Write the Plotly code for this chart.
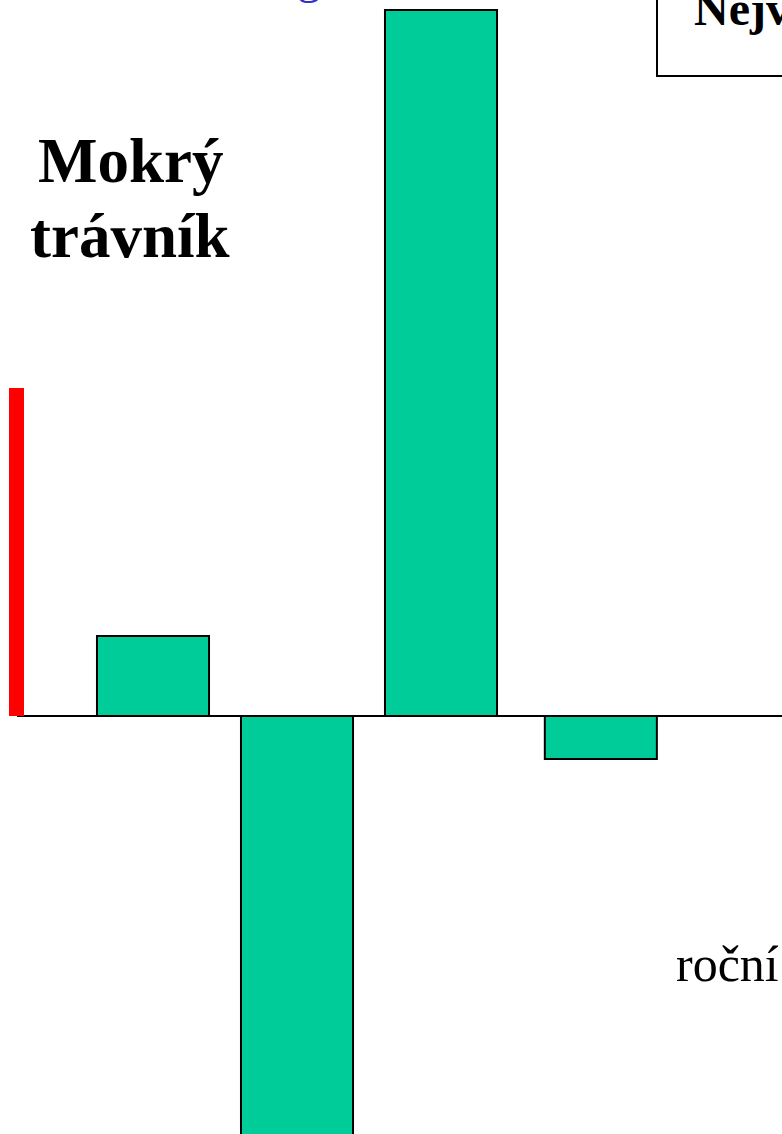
import plotly.graph_objects as go

# data
positions = [1.0, 2.0, 3.0, 4.11]
values = [80, -560, 706, -43]
scale_bar = 328
title_lines = ["Mokrý", "trávník"]
box_text = "Nejv"
axis_text = "roční"
blue_text = "g"

W, H = 782, 1134
fig = go.Figure()
fig.add_trace(go.Bar(
    x=positions, y=values, width=0.778,
    marker=dict(color="#00CC99", line=dict(color="black", width=2)),
    showlegend=False, hoverinfo="skip",
))

x0 = 1 - 153 / 144
x1 = x0 + W / 144
fig.update_layout(
    width=W, height=H, margin=dict(l=0, r=0, t=0, b=0),
    paper_bgcolor="white", plot_bgcolor="white",
    xaxis=dict(range=[x0, x1], visible=False),
    yaxis=dict(range=[-418, 716], visible=False),
    showlegend=False,
)

# zero line
fig.add_shape(type="line", xref="paper", yref="y", x0=17 / W, x1=1, y0=0, y1=0,
              line=dict(color="black", width=2), layer="below")
# red scale bar
fig.add_shape(type="rect", xref="paper", yref="y", x0=9 / W, x1=24 / W, y0=0, y1=scale_bar,
              fillcolor="red", line=dict(width=0))
# box top right
fig.add_shape(type="rect", xref="paper", yref="paper", x0=657 / W, x1=1.05,
              y0=1 - 76 / H, y1=1.05, line=dict(color="black", width=2), fillcolor="rgba(0,0,0,0)")

serif = "Liberation Serif, Times New Roman, serif"
for line, bottom in zip(title_lines, [198, 273]):
    fig.add_annotation(xref="paper", yref="paper", x=130 / W, y=1 - bottom / H,
                       text="<b>" + line + "</b>", showarrow=False,
                       font=dict(family=serif, size=63, color="black"),
                       xanchor="center", yanchor="bottom")
fig.add_annotation(xref="paper", yref="paper", x=692 / W, y=1 - 37 / H,
                   text="<b>" + box_text + "</b>", showarrow=False,
                   font=dict(family=serif, size=48, color="black"),
                   xanchor="left", yanchor="bottom")
fig.add_annotation(xref="paper", yref="paper", x=674 / W, y=1 - 994 / H,
                   text=axis_text, showarrow=False,
                   font=dict(family=serif, size=50, color="black"),
                   xanchor="left", yanchor="bottom")
fig.add_annotation(xref="paper", yref="paper", x=295 / W, y=1 - 5 / H,
                   text=blue_text, showarrow=False,
                   font=dict(family=serif, size=48, color="#3333CC"),
                   xanchor="left", yanchor="bottom")

fig.write_html("out.html", config={"displayModeBar": False},
               post_script="document.body.style.margin='0';document.body.style.overflow='hidden';")
